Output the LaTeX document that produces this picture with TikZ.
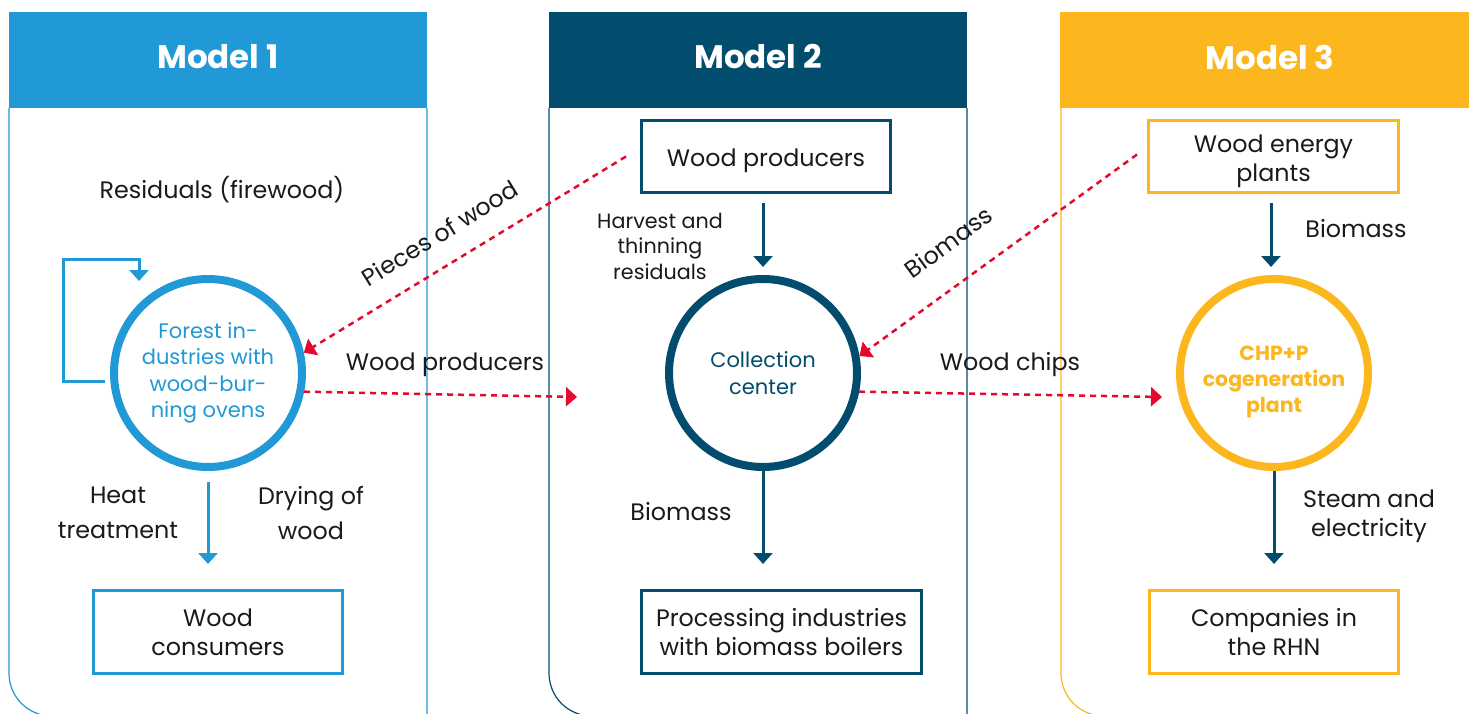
\documentclass[tikz,border=0pt]{standalone}
\usepackage{fontspec}
\setmainfont{Poppins}
\usetikzlibrary{arrows.meta,calc}

\definecolor{modelblue}{HTML}{2199D6}
\definecolor{modeldark}{HTML}{024D6D}
\definecolor{modelyellow}{HTML}{FDB71E}
\definecolor{flowred}{HTML}{E30A2D}
\definecolor{inkgray}{HTML}{1A1A1A}

\tikzset{
	header/.style={font=\bfseries\fontsize{32.5}{38}\selectfont, text=white},
	plain/.style={font=\fontsize{23.8}{29}\selectfont, text=inkgray, align=center},
	airy/.style={font=\fontsize{23.8}{34.5}\selectfont, text=inkgray, align=center},
	small/.style={font=\fontsize{20.7}{25.5}\selectfont, text=inkgray, align=center},
	hub/.style={circle, line width=8pt, minimum size=188pt, inner sep=0pt, align=center, font=\fontsize{21}{26.5}\selectfont},
	site/.style={rectangle, line width=3pt, inner sep=0pt, align=center, font=\fontsize{23.8}{29}\selectfont, text=inkgray},
	topsite/.style={site, minimum height=72pt},
	flow/.style={line width=3pt, -{Triangle[width=19pt,length=11pt]}},
	trade/.style={flowred, line width=2.5pt, dash pattern=on 6pt off 5pt, -{Triangle[width=19pt,length=11pt]}},
}

\begin{document}
\begin{tikzpicture}[x=1pt,y=-1pt]
		\useasboundingbox (0,0) rectangle (1469,714);
		\clip (0,0) rectangle (1469,714);
		\fill[white] (0,0) rectangle (1469,714);

		% Model 1
		\fill[modelblue] (9,12) rectangle (427,108);
		\draw[modelblue, line width=1.2pt] (9,108) -- (9,673) .. controls (9,697) and (28,716) .. (52,716) -- (427,716) -- (427,108);
		\node[header] (m1) at (218,57) {Model 1};
		\node[plain] (resid) at (222,190) {Residuals (firewood)};
		\node[hub, draw=modelblue, text=modelblue] (forest) at (208,373) {Forest in-\\dustries with\\wood-bur-\\ning ovens};
		\coordinate (loopin) at (105,381);
		\coordinate (loopout) at (139,281);
		\draw[flow, modelblue] (loopin) -| (63,259) -| (loopout);
		\node[airy] (heat) at (118,513) {Heat\\treatment};
		\node[airy] (dry) at (311,513) {Drying of\\wood};
		\node[site, draw=modelblue, minimum width=249pt, minimum height=83pt] (cons) at (218,632) {Wood\\consumers};
		\draw[flow, modelblue] ($(forest.south)+(0,11)$) -- ($(forest.south |- cons.north)+(0,-25)$);

		% Model 2
		\fill[modeldark] (549,12) rectangle (967,108);
		\draw[modeldark, line width=1.2pt] (549,108) -- (549,673) .. controls (549,697) and (568,716) .. (592,716) -- (967,716) -- (967,108);
		\node[header] (m2) at (758,57) {Model 2};
		\node[topsite, draw=modeldark, minimum width=249pt] (prod) at (766,156.5) {};
		\node[plain] (prodtext) at ($(prod.center)+(0,4)$) {Wood producers};
		\node[small] (harv) at (660,246) {Harvest and\\thinning\\residuals};
		\node[hub, draw=modeldark, text=modeldark] (collect) at (763,373) {Collection\\center};
		\node[plain] (bio2) at (681,512) {Biomass};
		\node[site, draw=modeldark, minimum width=280pt, minimum height=83pt] (proc) at (781.5,632) {Processing industries\\with biomass boilers};
		\draw[flow, modeldark] ($(prod.south |- collect.north)+(-3,-72)$) -- ($(collect.north)+(0,-8)$);
		\draw[flow, modeldark] (collect.south) -- ($(collect.south |- proc.north)+(0,-25)$);

		% Model 3
		\fill[modelyellow] (1060,12) rectangle (1469,108);
		\draw[modelyellow, line width=1.2pt] (1061,108) -- (1061,673) .. controls (1061,697) and (1080,716) .. (1104,716) -- (1480,716);
		\node[header] (m3) at (1270,57) {Model 3};
		\node[topsite, draw=modelyellow, minimum width=250pt] (plants) at (1273.5,156.5) {};
		\node[plain] (plantstext) at ($(plants.center)+(0,5)$) {Wood energy\\plants};
		\node[plain] (bio3) at (1356,229) {Biomass};
		\node[hub, draw=modelyellow] (chp) at (1274,373) {};
		\node[align=center, text=modelyellow, font=\bfseries\fontsize{20.5}{26}\selectfont] (chptext) at ($(chp.center)+(0,9)$) {CHP+P\\cogeneration\\plant};
		\node[plain] (steam) at (1369,516) {Steam and\\electricity};
		\node[site, draw=modelyellow, minimum width=249pt, minimum height=83pt] (rhn) at (1274,632) {Companies in\\the RHN};
		\draw[flow, modeldark] ($(chp.north)+(-3,-72)$) -- ($(chp.north)+(-3,-8)$);
		\draw[flow, modeldark] (chp.south) -- ($(chp.south |- rhn.north)+(0,-25)$);

		% exchanges between the models
		\coordinate (piecesfrom) at ($(prod.west)+(-14,0)$);
		\coordinate (wpto) at (577,397);
		\coordinate (biofrom) at ($(plants.west)+(-10,-2)$);
		\coordinate (chipsto) at (1162,397);
		\draw[trade] (piecesfrom) -- (forest.12);
		\draw[trade] (forest.-11) -- (wpto);
		\draw[trade] (biofrom) -- (collect.10);
		\draw[trade] (collect.-11) -- (chipsto);
		\node[plain, rotate=31.6] (pieces) at (440,233) {Pieces of wood};
		\node[plain] (wprod) at (445,365) {Wood producers};
		\node[plain, rotate=36.3] (biored) at (948,242) {Biomass};
		\node[plain] (chips) at (1010,365) {Wood chips};
	\end{tikzpicture}
\end{document}
